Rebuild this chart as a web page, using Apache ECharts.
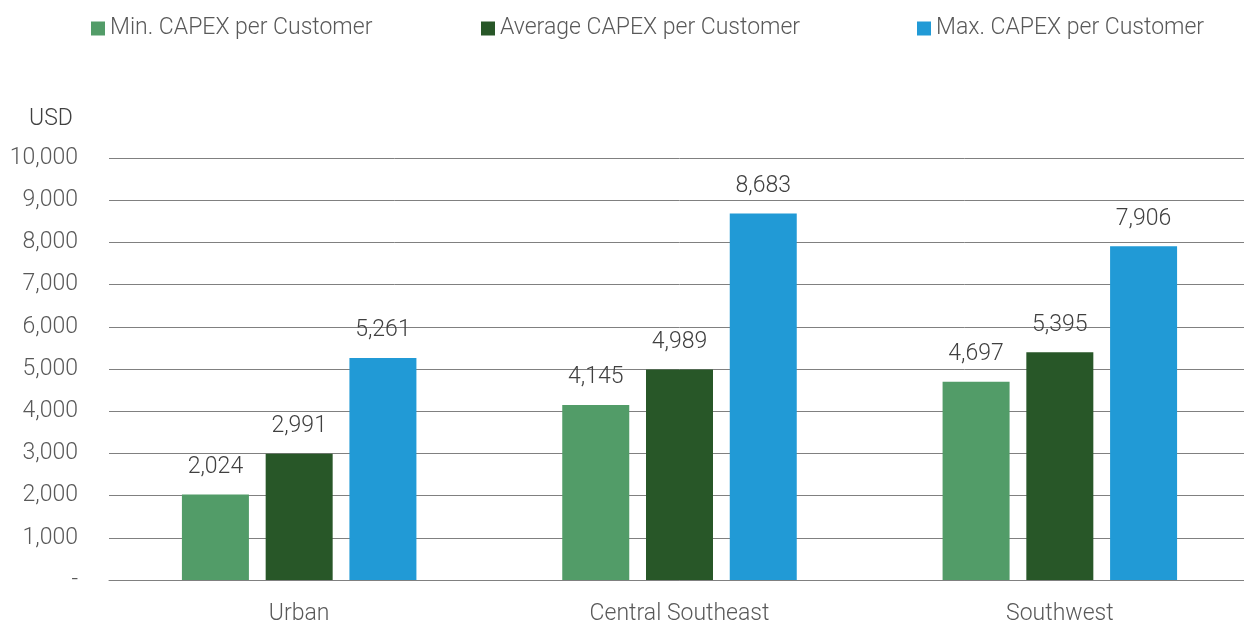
<!DOCTYPE html>
<html>
<head>
<meta charset="utf-8">
<script src="https://cdn.jsdelivr.net/npm/echarts@6/dist/echarts.min.js"></script>
<style>
  html, body { margin: 0; padding: 0; background: #fff; overflow: hidden; }
  /* the plot area runs a few px past the right edge in the picture */
  #chart { width: 1250px; height: 626px; }
</style>
</head>
<body>
<div id="chart"></div>
<script>
// categories and series values
var regions = ['Urban', 'Central Southeast', 'Southwest'];
var seriesNames = ['Min. CAPEX per Customer', 'Average CAPEX per Customer', 'Max. CAPEX per Customer'];
var minCapex = [2024, 4145, 4697];
var avgCapex = [2991, 4989, 5395];
var maxCapex = [5261, 8683, 7906];

var font = 'Roboto';
var grey = '#595959';

function fmt(v) {
    if (v === 0) return '-';
    return v.toString().replace(/\B(?=(\d{3})+(?!\d))/g, ',');
}

var myChart = echarts.init(document.getElementById('chart'));

function bar(name, data, color) {
    return {
        name: name,
        type: 'bar',
        data: data,
        barWidth: 67,
        barGap: '25%',
        itemStyle: { color: color },
        label: {
            show: true,
            position: 'top',
            distance: 16,
            color: '#404040',
            fontFamily: font,
            fontWeight: 300,
            fontSize: 23,
            formatter: function (p) { return fmt(p.value); }
        }
    };
}

// one legend per item so each can sit where it is in the picture
function legendItem(name, left) {
    return {
        data: [name],
        left: left,
        top: 12,
        itemWidth: 14,
        itemHeight: 14,
        itemGap: 0,
        icon: 'rect',
        textStyle: { color: grey, fontFamily: font, fontWeight: 300, fontSize: 23 }
    };
}

myChart.setOption({
    animation: false,
    title: {
        text: 'USD',
        left: 24,
        top: 103,
        textStyle: { color: '#404040', fontFamily: font, fontWeight: 300, fontSize: 23 }
    },
    legend: [
        legendItem(seriesNames[0], 86),
        legendItem(seriesNames[1], 476),
        legendItem(seriesNames[2], 912)
    ],
    grid: { left: 109, right: 0, top: 158, bottom: 46 },
    xAxis: {
        type: 'category',
        data: regions,
        axisTick: { show: false },
        axisLine: { lineStyle: { color: '#808080', width: 1 } },
        axisLabel: { color: grey, fontFamily: font, fontWeight: 300, fontSize: 23, margin: 23 }
    },
    yAxis: {
        type: 'value',
        min: 0,
        max: 10000,
        interval: 1000,
        axisLine: { show: false },
        axisTick: { show: false },
        splitLine: { lineStyle: { color: '#808080', width: 1 } },
        axisLabel: {
            color: grey, fontFamily: font, fontWeight: 300, fontSize: 23, margin: 31,
            formatter: fmt
        }
    },
    series: [
        bar(seriesNames[0], minCapex, '#529C68'),
        bar(seriesNames[1], avgCapex, '#285728'),
        bar(seriesNames[2], maxCapex, '#219AD6')
    ]
});
</script>
</body>
</html>
